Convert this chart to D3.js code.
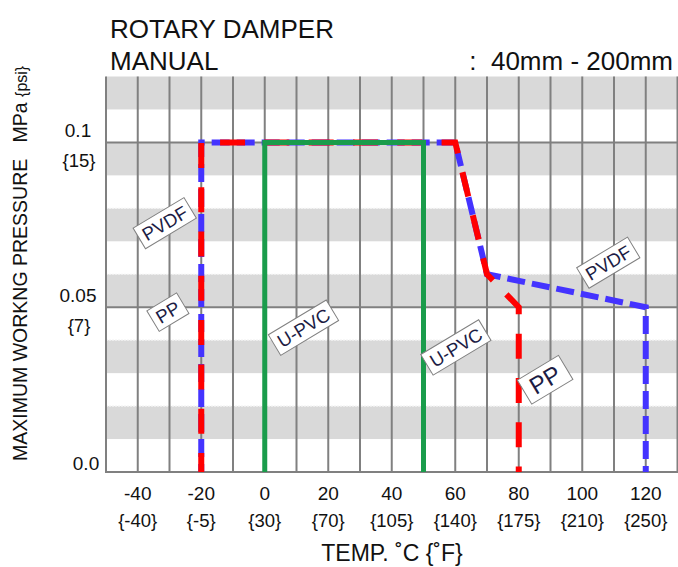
<!DOCTYPE html>
<html>
<head>
<meta charset="utf-8">
<script src="https://cdn.jsdelivr.net/npm/d3@7"></script>
<style>
  html, body { margin: 0; padding: 0; background: #fff; }
  svg { display: block; font-family: "Liberation Sans", Arial, sans-serif; }
</style>
</head>
<body>
<svg id="chart" width="678" height="567"></svg>
<script>
// ---------- data ----------
const tempTicks = [-40, -20, 0, 20, 40, 60, 80, 100, 120];
const tempTickF = ["{-40}", "{-5}", "{30}", "{70}", "{105}", "{140}", "{175}", "{210}", "{250}"];
const pressTicks = [0.1, 0.05, 0.0];
const pressTickLabels = ["0.1", "0.05", "0.0"];
const pressTickPsi = ["{15}", "{7}", ""];

const upvcTemp = [0, 0, 50, 50];
const upvcPress = [0, 0.1, 0.1, 0];
const ppTemp = [-20, -20, 60, 70, 80, 80];
const ppPress = [0, 0.1, 0.1, 0.06, 0.05, 0];
const pvdfTemp = [-20, -20, 60, 70, 120, 120];
const pvdfPress = [0, 0.1, 0.1, 0.06, 0.05, 0];

const labelNames = ["PVDF", "PP", "U-PVC", "U-PVC", "PP", "PVDF"];
const labelTemp = [-31.5, -30.5, 12.2, 60.2, 88.3, 108.2];
const labelPress = [0.0755, 0.0485, 0.0438, 0.0378, 0.0280, 0.0635];
const labelBig = [false, false, false, false, true, false];

// ---------- scales ----------
const svg = d3.select("#chart");
const x = d3.scaleLinear().domain([-50, 130]).range([106, 677.5]);
const y = d3.scaleLinear().domain([0, 0.12]).range([472, 76.5]);
const plotRight = 678;

// bands
const bandStarts = d3.range(0.01, 0.12, 0.02);
svg.append("g").selectAll("rect").data(bandStarts).join("rect")
  .attr("x", x(-50)).attr("width", plotRight - x(-50))
  .attr("y", d => y(d + 0.01)).attr("height", d => y(d) - y(d + 0.01))
  .attr("fill", "#d9d9d9");

// faint dotted lines at band tops
svg.append("g").selectAll("line").data(bandStarts.filter(d => Math.abs(d + 0.01 - 0.1) > 1e-6 && d + 0.01 < 0.115)).join("line")
  .attr("x1", x(-50)).attr("x2", plotRight)
  .attr("y1", d => y(d + 0.01)).attr("y2", d => y(d + 0.01))
  .attr("stroke", "#f2f2f2").attr("stroke-width", 1.2).attr("stroke-dasharray", "2,1");

// vertical grid
const vgrid = d3.range(-50, 131, 10);
svg.append("g").selectAll("line").data(vgrid).join("line")
  .attr("x1", d => x(d)).attr("x2", d => x(d))
  .attr("y1", y(0.12)).attr("y2", y(0))
  .attr("stroke", "#808080").attr("stroke-width", 2);

// horizontal lines
svg.append("g").selectAll("line").data([0, 0.05, 0.1]).join("line")
  .attr("x1", x(-50) - 1).attr("x2", plotRight)
  .attr("y1", d => y(d)).attr("y2", d => y(d))
  .attr("stroke", "#808080").attr("stroke-width", 2);

// ---------- series ----------
const line = d3.line().x(d => x(d[0])).y(d => y(d[1]));
const zip = (a, b) => a.map((v, i) => [v, b[i]]);

svg.append("path").datum(zip(pvdfTemp, pvdfPress)).attr("d", line)
  .attr("fill", "none").attr("stroke", "#4433ff").attr("stroke-width", 6)
  .attr("stroke-dasharray", "18,7").attr("stroke-dashoffset", 10)
  .attr("stroke-linejoin", "miter");

svg.append("path").datum(zip(ppTemp, ppPress)).attr("d", line)
  .attr("fill", "none").attr("stroke", "#ff0000").attr("stroke-width", 6)
  .attr("stroke-dasharray", "25,19.3").attr("stroke-dashoffset", 6)
  .attr("stroke-linejoin", "miter");

svg.append("path").datum(zip(upvcTemp, upvcPress)).attr("d", line)
  .attr("fill", "none").attr("stroke", "#1a9c4b").attr("stroke-width", 5)
  .attr("stroke-linejoin", "miter");

// ---------- label boxes ----------
labelNames.forEach((name, i) => {
  const g = svg.append("g")
    .attr("transform", `translate(${x(labelTemp[i])},${y(labelPress[i])}) rotate(-31)`);
  const fs = labelBig[i] ? 24 : 18.5;
  const t = g.append("text").text(name)
    .attr("text-anchor", "middle").attr("dy", "0.36em")
    .attr("font-size", fs).attr("fill", "#1c1c44");
  const w = t.node().getComputedTextLength();
  const padX = labelBig[i] ? 8 : 5, h = labelBig[i] ? 28 : 24;
  g.insert("rect", "text")
    .attr("x", -w / 2 - padX).attr("y", -h / 2)
    .attr("width", w + 2 * padX).attr("height", h)
    .attr("fill", "#fff").attr("stroke", "#808080").attr("stroke-width", 1);
});

// ---------- axis texts ----------
const tfs = 19;
svg.append("g").selectAll("text").data(tempTicks).join("text")
  .attr("x", d => x(d)).attr("y", 500).attr("text-anchor", "middle")
  .attr("font-size", tfs).attr("fill", "#111").text(d => d);
svg.append("g").selectAll("text").data(tempTickF).join("text")
  .attr("x", (d, i) => x(tempTicks[i])).attr("y", 527).attr("text-anchor", "middle")
  .attr("font-size", tfs - 0.5).attr("fill", "#111").text(d => d);

pressTicks.forEach((p, i) => {
  const last = p === 0;
  svg.append("text").attr("x", last ? 86 : 78).attr("y", y(p) - (last ? 2 : 5.5))
    .attr("text-anchor", "middle").attr("font-size", tfs).attr("fill", "#111")
    .text(pressTickLabels[i]);
  if (pressTickPsi[i]) {
    svg.append("text").attr("x", 79).attr("y", y(p) + 25)
      .attr("text-anchor", "middle").attr("font-size", tfs - 0.5).attr("fill", "#111")
      .text(pressTickPsi[i]);
  }
});

// axis titles
svg.append("text").attr("x", 392).attr("y", 561).attr("text-anchor", "middle")
  .attr("font-size", 23).attr("fill", "#111").text("TEMP. ˚C {˚F}");

const yt = svg.append("text").attr("transform", "translate(27,461) rotate(-90)")
  .attr("font-size", 19.5).attr("fill", "#111");
yt.append("tspan").text("MAXIMUM WORKNG PRESSURE\u00a0\u00a0 MPa ");
yt.append("tspan").attr("font-size", 16).text("{psi}");

// titles
svg.append("text").attr("x", 110).attr("y", 38).attr("font-size", 26).attr("fill", "#111").text("ROTARY DAMPER");
svg.append("text").attr("x", 110).attr("y", 70).attr("font-size", 26).attr("fill", "#111").text("MANUAL");
svg.append("text").attr("x", 673).attr("y", 70).attr("text-anchor", "end").attr("font-size", 26).attr("fill", "#111").text(":\u00a0 40mm - 200mm");
</script>
</body>
</html>
